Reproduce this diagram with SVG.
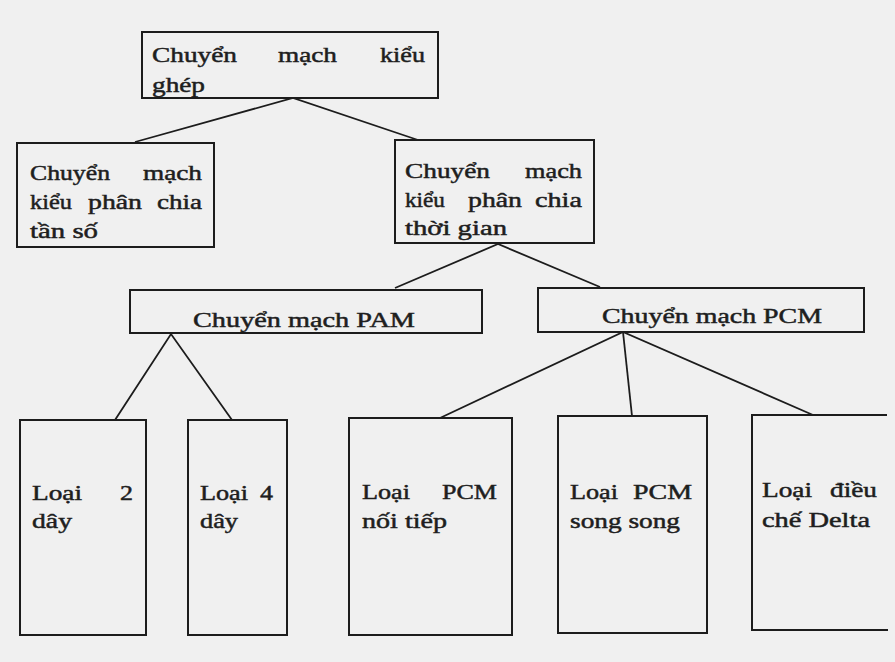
<svg xmlns="http://www.w3.org/2000/svg" width="895" height="662" viewBox="0 0 895 662">
<style>
.box{fill:none;stroke:#1c1c1c;stroke-width:2}
.ln{fill:none;stroke:#1c1c1c;stroke-width:1.8}
text{font-family:"Liberation Serif","Times New Roman",serif;font-size:22px;fill:#1e1e1e;stroke:#1e1e1e;stroke-width:0.5}
</style>
<rect x="0" y="0" width="895" height="662" fill="#f0f0f0"/>
<g id="connectors">
<path class="ln" d="M135,142 L293,98 L418,140"/>
<path class="ln" d="M395,288 L498,244 L600,287"/>
<path class="ln" d="M115,420 L171,334 L232,420"/>
<path class="ln" d="M440,418 L623,332 L813,415"/>
<path class="ln" d="M623,332 L632,416"/>
</g>
<g id="n-ghep">
<rect class="box" x="142" y="32" width="296" height="66"/>
<text x="152" y="62" textLength="85" lengthAdjust="spacingAndGlyphs">Chuyển</text>
<text x="278" y="62" textLength="59" lengthAdjust="spacingAndGlyphs">mạch</text>
<text x="380" y="62" textLength="45" lengthAdjust="spacingAndGlyphs">kiểu</text>
<text x="152" y="92" textLength="53" lengthAdjust="spacingAndGlyphs">ghép</text>
</g>
<g id="n-tanso">
<rect class="box" x="17" y="143" width="197" height="104"/>
<text x="30" y="180" textLength="80" lengthAdjust="spacingAndGlyphs">Chuyển</text>
<text x="143" y="180" textLength="59" lengthAdjust="spacingAndGlyphs">mạch</text>
<text x="30" y="209" textLength="42" lengthAdjust="spacingAndGlyphs">kiểu</text>
<text x="88" y="209" textLength="54" lengthAdjust="spacingAndGlyphs">phân</text>
<text x="157" y="209" textLength="45" lengthAdjust="spacingAndGlyphs">chia</text>
<text x="30" y="238" textLength="68" lengthAdjust="spacingAndGlyphs">tần số</text>
</g>
<g id="n-thoigian">
<rect class="box" x="395" y="140" width="199" height="103"/>
<text x="405" y="178" textLength="85" lengthAdjust="spacingAndGlyphs">Chuyển</text>
<text x="525" y="178" textLength="57" lengthAdjust="spacingAndGlyphs">mạch</text>
<text x="405" y="207" textLength="40" lengthAdjust="spacingAndGlyphs">kiểu</text>
<text x="468" y="207" textLength="54" lengthAdjust="spacingAndGlyphs">phân</text>
<text x="535" y="207" textLength="47" lengthAdjust="spacingAndGlyphs">chia</text>
<text x="405" y="235" textLength="102" lengthAdjust="spacingAndGlyphs">thời gian</text>
</g>
<g id="n-pam">
<rect class="box" x="130" y="290" width="352" height="43"/>
<text x="193" y="327" textLength="222" lengthAdjust="spacingAndGlyphs">Chuyển mạch PAM</text>
</g>
<g id="n-pcm">
<rect class="box" x="538" y="288" width="326" height="44"/>
<text x="602" y="323" textLength="220" lengthAdjust="spacingAndGlyphs">Chuyển mạch PCM</text>
</g>
<g id="n-2day">
<rect class="box" x="20" y="420" width="126" height="215"/>
<text x="32" y="500" textLength="50" lengthAdjust="spacingAndGlyphs">Loại</text>
<text x="120" y="500" textLength="13" lengthAdjust="spacingAndGlyphs">2</text>
<text x="32" y="528" textLength="40" lengthAdjust="spacingAndGlyphs">dây</text>
</g>
<g id="n-4day">
<rect class="box" x="188" y="420" width="99" height="215"/>
<text x="200" y="500" textLength="48" lengthAdjust="spacingAndGlyphs">Loại</text>
<text x="260" y="500" textLength="13" lengthAdjust="spacingAndGlyphs">4</text>
<text x="200" y="528" textLength="38" lengthAdjust="spacingAndGlyphs">dây</text>
</g>
<g id="n-noitiep">
<rect class="box" x="349" y="418" width="163" height="217"/>
<text x="362" y="499" textLength="48" lengthAdjust="spacingAndGlyphs">Loại</text>
<text x="442" y="499" textLength="55" lengthAdjust="spacingAndGlyphs">PCM</text>
<text x="362" y="528" textLength="85" lengthAdjust="spacingAndGlyphs">nối tiếp</text>
</g>
<g id="n-songsong">
<rect class="box" x="558" y="416" width="149" height="217"/>
<text x="570" y="499" textLength="48" lengthAdjust="spacingAndGlyphs">Loại</text>
<text x="633" y="499" textLength="59" lengthAdjust="spacingAndGlyphs">PCM</text>
<text x="570" y="528" textLength="110" lengthAdjust="spacingAndGlyphs">song song</text>
</g>
<g id="n-delta">
<path class="box" d="M887,415 H752 V630 H888"/>
<text x="762" y="497" textLength="50" lengthAdjust="spacingAndGlyphs">Loại</text>
<text x="830" y="497" textLength="47" lengthAdjust="spacingAndGlyphs">điều</text>
<text x="762" y="527" textLength="108" lengthAdjust="spacingAndGlyphs">chế Delta</text>
</g>
</svg>
